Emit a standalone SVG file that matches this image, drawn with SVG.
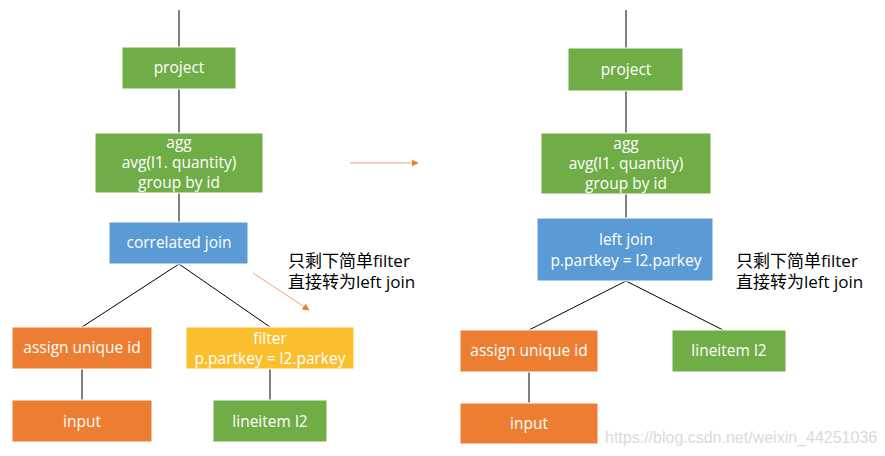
<svg xmlns="http://www.w3.org/2000/svg" width="885" height="456" viewBox="0 0 885 456">
<defs>
<style>
.t{font-family:"Open Sans","Noto Sans",sans-serif;font-size:15.5px;font-weight:500;fill:#fff;text-anchor:middle}
.c{font-family:"Open Sans","Noto Sans CJK SC",sans-serif;font-size:17px;fill:#000}
.g{fill:#70AD47;stroke:#fff;stroke-width:1}
.b{fill:#5B9BD5;stroke:#fff;stroke-width:1}
.o{fill:#ED7D31;stroke:#fff;stroke-width:1}
.y{fill:#FBBF2E;stroke:#fff;stroke-width:1}
.l{stroke:#000;stroke-width:1;fill:none}
.a{stroke:#F4A070;stroke-width:1;fill:none}
</style>
<marker id="ah" viewBox="0 0 10 10" refX="9" refY="5" markerWidth="7" markerHeight="7" orient="auto" markerUnits="userSpaceOnUse">
<path d="M0,0 L10,5 L0,10 z" fill="#ED7D31"/>
</marker>
</defs>
<rect width="885" height="456" fill="#fff"/>
<g id="connectors">
<line class="l" x1="179" y1="10" x2="179" y2="47"/>
<line class="l" x1="179" y1="89" x2="179" y2="133"/>
<line class="l" x1="179" y1="193" x2="179" y2="222"/>
<line class="l" x1="179" y1="264" x2="82" y2="327"/>
<line class="l" x1="179" y1="264" x2="270" y2="327"/>
<line class="l" x1="82" y1="369" x2="82" y2="400"/>
<line class="l" x1="270" y1="369" x2="270" y2="400"/>
<line class="l" x1="626" y1="10" x2="626" y2="48"/>
<line class="l" x1="626" y1="91" x2="626" y2="133"/>
<line class="l" x1="626" y1="194" x2="626" y2="218"/>
<line class="l" x1="626" y1="281" x2="529" y2="330"/>
<line class="l" x1="626" y1="281" x2="723" y2="330"/>
<line class="l" x1="529" y1="372" x2="529" y2="403"/>
<line class="a" x1="350" y1="163" x2="418" y2="163" marker-end="url(#ah)"/>
<line class="a" x1="253" y1="273" x2="309" y2="310" marker-end="url(#ah)"/>
</g>
<g id="project1"><rect class="g" x="122" y="47" width="114" height="42"/><text class="t" x="179" y="73">project</text></g>
<g id="agg1"><rect class="g" x="95" y="133" width="168" height="60"/><text class="t" x="179" y="148">agg</text><text class="t" x="179" y="168">avg(l1. quantity)</text><text class="t" x="179" y="188">group by id</text></g>
<g id="cjoin"><rect class="b" x="109" y="222" width="139" height="42"/><text class="t" x="179" y="248">correlated join</text></g>
<g id="assign1"><rect class="o" x="12" y="327" width="140" height="42"/><text class="t" x="82" y="353">assign unique id</text></g>
<g id="input1"><rect class="o" x="12" y="400" width="140" height="42"/><text class="t" x="82" y="427">input</text></g>
<g id="filter"><rect class="y" x="186" y="327" width="168" height="42"/><text class="t" x="270" y="344">filter</text><text class="t" x="270" y="364">p.partkey = l2.parkey</text></g>
<g id="lineitem1"><rect class="g" x="213" y="400" width="114" height="42"/><text class="t" x="270" y="427">lineitem l2</text></g>
<g id="project2"><rect class="g" x="568" y="48" width="115" height="43"/><text class="t" x="626" y="75">project</text></g>
<g id="agg2"><rect class="g" x="541" y="133" width="170" height="61"/><text class="t" x="626" y="149">agg</text><text class="t" x="626" y="169">avg(l1. quantity)</text><text class="t" x="626" y="189">group by id</text></g>
<g id="ljoin"><rect class="b" x="537" y="218" width="176" height="63"/><text class="t" x="626" y="245">left join</text><text class="t" x="626" y="266">p.partkey = l2.parkey</text></g>
<g id="assign2"><rect class="o" x="460" y="330" width="138" height="42"/><text class="t" x="529" y="356">assign unique id</text></g>
<g id="input2"><rect class="o" x="460" y="403" width="138" height="41"/><text class="t" x="529" y="429">input</text></g>
<g id="lineitem2"><rect class="g" x="672" y="330" width="114" height="42"/><text class="t" x="729" y="356">lineitem l2</text></g>
<g id="note1"><text class="c" x="288" y="267">只剩下简单filter</text><text class="c" x="288" y="288">直接转为left join</text></g>
<g id="note2"><text class="c" x="736" y="267">只剩下简单filter</text><text class="c" x="736" y="288">直接转为left join</text></g>
<text x="605" y="443" style="font-family:'Liberation Sans',Arial,sans-serif;font-size:16px;fill:#DADADA">https://blog.csdn.net/weixin_44251036</text>
</svg>
